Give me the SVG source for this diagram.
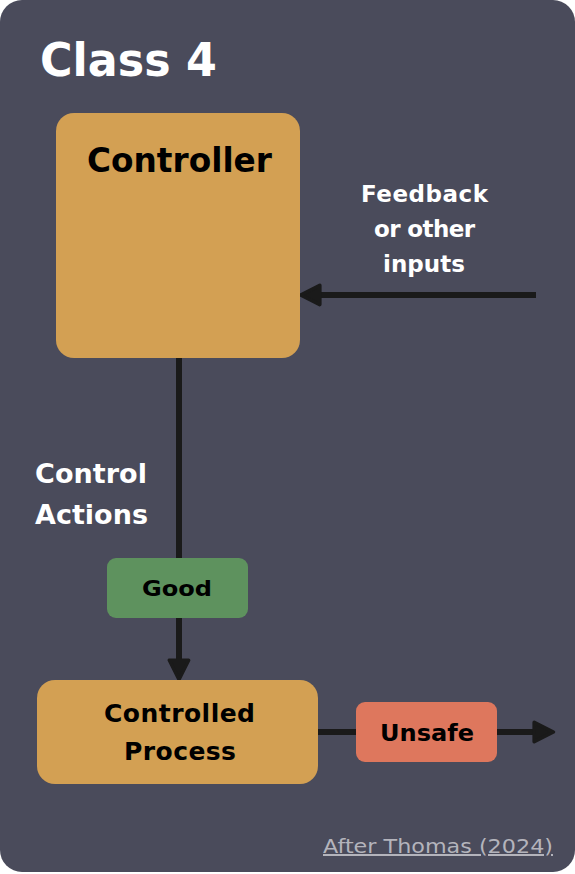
<svg xmlns="http://www.w3.org/2000/svg" width="575" height="874" viewBox="0 0 575 874">
<defs>
<style>
.t{font-family:"DejaVu Sans","Open Sans",sans-serif;font-weight:700}
.w{fill:#ffffff}
.k{fill:#000000}
.c{stroke:#1a1a1a;stroke-width:6;fill:none}
</style>
<marker id="ah" viewBox="0 0 10 10" refX="8" refY="5" markerWidth="4" markerHeight="4" orient="auto" markerUnits="strokeWidth">
<path d="M1,1 L9,5 L1,9 Z" fill="#1a1a1a" stroke="#1a1a1a" stroke-width="1.5" stroke-linejoin="round"/>
</marker>
</defs>
<rect x="0" y="0" width="575" height="874" fill="#ffffff"/>
<rect x="0" y="0" width="575" height="872" rx="22" fill="#4a4b5b"/>
<text class="t w" x="40" y="76" font-size="46" textLength="177" lengthAdjust="spacingAndGlyphs">Class 4</text>
<g id="connectors">
<line class="c" x1="536" y1="295" x2="303" y2="295" marker-end="url(#ah)"/>
<line class="c" x1="179" y1="358" x2="179" y2="677" marker-end="url(#ah)"/>
<line class="c" x1="318" y1="732" x2="356" y2="732"/>
<line class="c" x1="497" y1="732" x2="551" y2="732" marker-end="url(#ah)"/>
</g>
<g id="controller">
<rect x="56" y="113" width="244" height="245" rx="18" fill="#d3a053"/>
<text class="t k" x="87" y="172" font-size="33" textLength="185" lengthAdjust="spacingAndGlyphs">Controller</text>
</g>
<g id="feedback-label">
<text class="t w" font-size="23" lengthAdjust="spacingAndGlyphs"><tspan x="361" y="202" textLength="127">Feedback</tspan><tspan x="374" y="237" textLength="101">or other</tspan><tspan x="383" y="272" textLength="82">inputs</tspan></text>
</g>
<g id="control-actions-label">
<text class="t w" font-size="27" lengthAdjust="spacingAndGlyphs"><tspan x="35" y="483" textLength="112">Control</tspan><tspan x="35" y="524" textLength="113">Actions</tspan></text>
</g>
<g id="good">
<rect x="107" y="558" width="141" height="60" rx="9" fill="#5e925e"/>
<text class="t k" x="142" y="596" font-size="22" textLength="70" lengthAdjust="spacingAndGlyphs">Good</text>
</g>
<g id="controlled-process">
<rect x="37" y="680" width="281" height="104" rx="18" fill="#d3a053"/>
<text class="t k" font-size="25" lengthAdjust="spacingAndGlyphs"><tspan x="104" y="722" textLength="151">Controlled</tspan><tspan x="124" y="760" textLength="112">Process</tspan></text>
</g>
<g id="unsafe">
<rect x="356" y="702" width="141" height="60" rx="9" fill="#de775d"/>
<text class="t k" x="380" y="741" font-size="23" textLength="94" lengthAdjust="spacingAndGlyphs">Unsafe</text>
</g>
<text x="323" y="853" font-family="'DejaVu Sans','Open Sans',sans-serif" font-size="20" fill="#b4b4bc" text-decoration="underline" textLength="230" lengthAdjust="spacingAndGlyphs">After Thomas (2024)</text>
</svg>
